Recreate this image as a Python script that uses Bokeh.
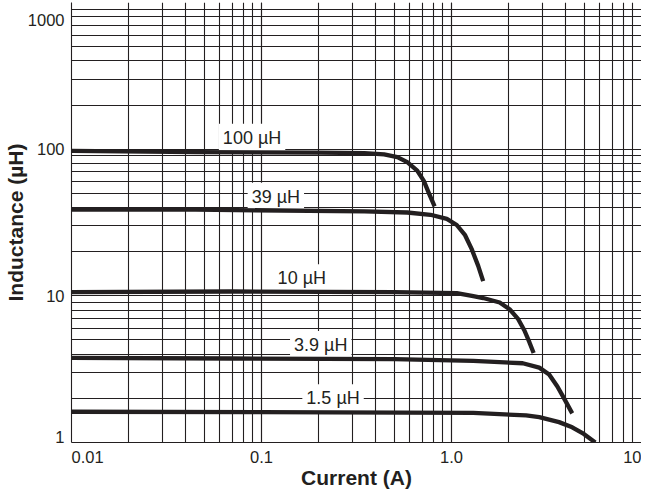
from bokeh.plotting import figure
from bokeh.models import Range1d, CustomJSTickFormatter, ColumnDataSource
from bokeh.embed import file_html
from bokeh.resources import INLINE
from bokeh.core.properties import value

# ---- data ----
x_ticks = [0.01, 0.1, 1.0, 10.0]
x_tick_labels = ["0.01", "0.1", "1.0", "10"]
y_ticks = [1, 10, 100, 1000]
y_tick_labels = ["1", "10", "100", "1000"]

i_100 = [0.01, 0.045, 0.2, 0.348, 0.442, 0.519, 0.585, 0.660, 0.715, 0.759, 0.815]
l_100 = [97.5, 95.6, 94.8, 94.1, 92.2, 88.3, 81.5, 71.4, 60.8, 50.4, 40.7]

i_39 = [0.01, 0.045, 0.348, 0.585, 0.775, 0.945, 1.066, 1.179, 1.276, 1.382, 1.468]
l_39 = [38.7, 38.7, 37.6, 37.0, 35.7, 33.5, 30.4, 25.9, 20.9, 16.0, 12.6]

i_10 = [0.01, 0.07, 0.5, 1.066, 1.302, 1.468, 1.793, 2.022, 2.234, 2.420, 2.570, 2.706]
l_10 = [10.6, 10.7, 10.6, 10.45, 9.95, 9.66, 9.0, 8.1, 7.0, 5.8, 4.83, 4.07]

i_3p9 = [0.01, 0.07, 0.5, 1.302, 2.371, 2.897, 3.266, 3.608, 3.912, 4.319]
l_3p9 = [3.78, 3.74, 3.70, 3.60, 3.47, 3.24, 2.91, 2.41, 2.00, 1.58]

i_1p5 = [0.01, 0.1, 1.302, 2.47, 2.897, 3.682, 4.319, 4.971, 5.713]
l_1p5 = [1.62, 1.61, 1.59, 1.53, 1.49, 1.377, 1.27, 1.144, 1.0]

curve_names = ["100 µH", "39 µH", "10 µH", "3.9 µH", "1.5 µH"]
name_i = [0.0892, 0.119, 0.163, 0.205, 0.238]
name_l = [119.6, 47.3, 13.2, 4.62, 2.00]

INK = "#231f20"
FONT = "Liberation Sans"

p = figure(width=641, height=491,
           x_axis_type="log", y_axis_type="log",
           x_range=Range1d(x_ticks[0], x_ticks[-1]), y_range=Range1d(y_ticks[0], y_ticks[-1]),
           output_backend="svg", toolbar_location=None,
           min_border_left=67, min_border_right=0,
           min_border_top=2, min_border_bottom=45)
p.outline_line_color = None
p.background_fill_color = "white"
p.border_fill_color = "white"

for g in (p.xgrid, p.ygrid):
    g.grid_line_color = INK
    g.grid_line_width = 1.1
    g.minor_grid_line_color = INK
    g.minor_grid_line_width = 1.1

# first x label is padded so it starts at the frame edge, as in the reference
x_code = """
const k = vals.findIndex(v => Math.abs(Math.log10(v) - Math.log10(tick)) < 1e-6);
if (k < 0) return "";
const s = labels[k];
const pad = s.replace(/[0-9]/g, "\\u00a0\\u00a0").replace(/\\./g, "\\u00a0");
if (k == 0) return pad + s;
return s;
"""
y_code = """
const k = vals.findIndex(v => Math.abs(Math.log10(v) - Math.log10(tick)) < 1e-6);
if (k < 0) return "";
const s = labels[k];
if (k == 0) return s + "\\n";
if (k == vals.length - 1) return "\\n" + s;
return s;
"""
p.xaxis.formatter = CustomJSTickFormatter(args=dict(vals=x_ticks, labels=x_tick_labels), code=x_code)
p.yaxis.formatter = CustomJSTickFormatter(args=dict(vals=y_ticks, labels=y_tick_labels), code=y_code)

for ax in (p.xaxis, p.yaxis):
    ax.axis_line_color = INK
    ax.axis_line_width = 1.1
    ax.major_tick_in = 0
    ax.major_tick_out = 0
    ax.minor_tick_in = 0
    ax.minor_tick_out = 0
    ax.major_tick_line_color = None
    ax.minor_tick_line_color = None
    ax.major_label_text_font = FONT
    ax.major_label_text_font_size = "16.5px"
    ax.major_label_text_color = INK
    ax.axis_label_text_font = FONT
    ax.axis_label_text_font_size = "21px"
    ax.axis_label_text_font_style = "bold"
    ax.axis_label_text_color = INK

p.yaxis.major_label_text_line_height = 0.6
p.xaxis.axis_label = "Current (A)"
p.yaxis.axis_label = "Inductance (µH)"
p.xaxis.major_label_standoff = 5
p.yaxis.major_label_standoff = 7
p.xaxis.axis_label_standoff = -3
p.yaxis.axis_label_standoff = -2

# curve names with white boxes (drawn below the curves)
src = ColumnDataSource(dict(x=name_i, y=name_l, t=curve_names))
p.text(x="x", y="y", text="t", source=src, text_font=value(FONT), text_font_size="18px",
       text_align="center", text_baseline="middle", text_color=INK,
       background_fill_color="white", padding=4)

for xs, ys in ((i_100, l_100), (i_39, l_39), (i_10, l_10), (i_3p9, l_3p9), (i_1p5, l_1p5)):
    p.line(xs, ys, line_color=INK, line_width=4.3, line_join="round", line_cap="butt")

open("out.html", "w").write(file_html(p, INLINE))
